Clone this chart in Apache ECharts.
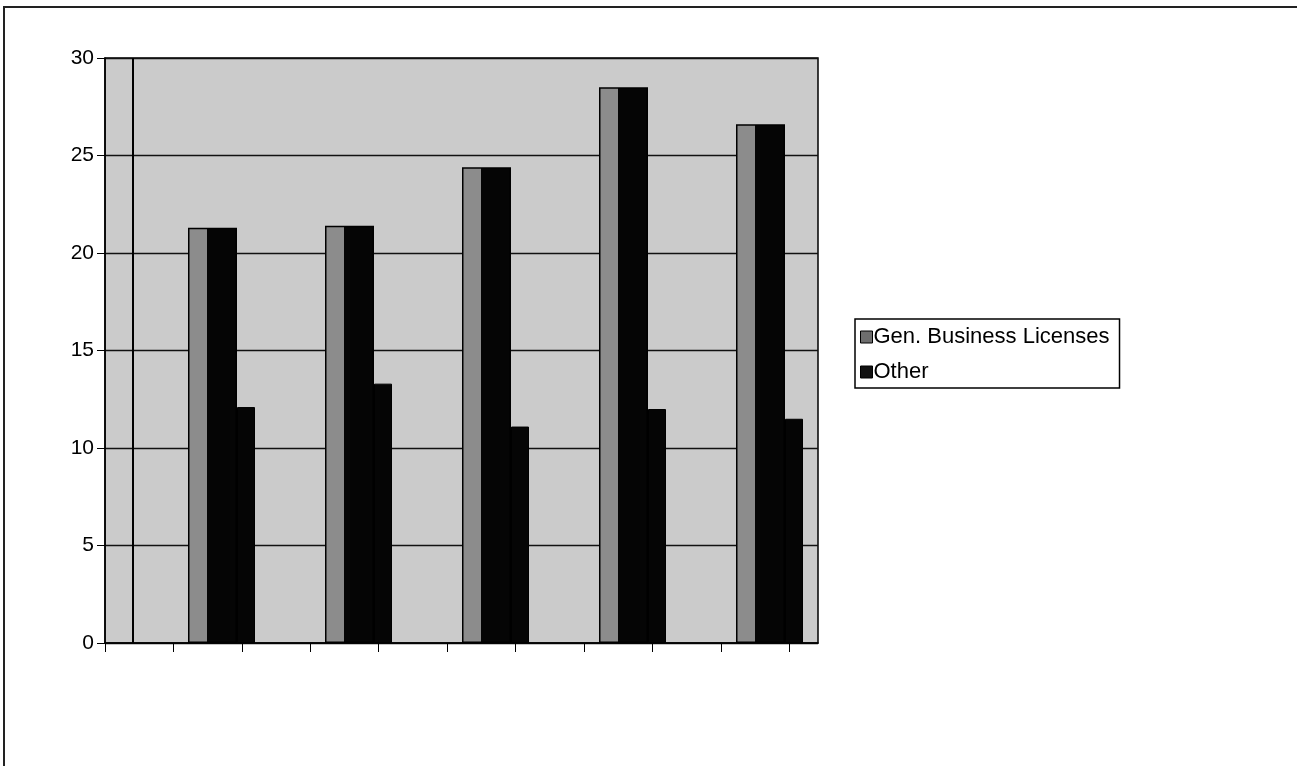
<!DOCTYPE html>
<html>
<head>
<meta charset="utf-8">
<title>Licenses</title>
<script src="https://cdn.jsdelivr.net/npm/echarts@6/dist/echarts.min.js"></script>
<style>
  html, body { margin: 0; padding: 0; background: #fff; }
  #chart { width: 1297px; height: 766px; }
</style>
</head>
<body>
<div id="chart"></div>
<script>
// Five reporting periods (no category labels are printed on the axis)
const categories = ['1', '2', '3', '4', '5'];
const genBusiness = [21.3, 21.4, 24.4, 28.5, 26.6];
const other = [12.1, 13.3, 11.1, 12.0, 11.5];
const yTicks = [0, 5, 10, 15, 20, 25, 30];
const xTickPositions = [0, 1, 2, 3, 4, 5, 6, 7, 8, 9, 10];

const seriesNames = ['Gen. Business Licenses', 'Other'];
const FONT = '"Liberation Sans", Arial, sans-serif';

const chart = echarts.init(document.getElementById('chart'), null, { renderer: 'canvas' });

// Gray front face with dark body, giving the columns a 3D look
const genFill = new echarts.graphic.LinearGradient(0, 0, 1, 0, [
  { offset: 0, color: '#8c8c8c' },
  { offset: 0.39, color: '#8c8c8c' },
  { offset: 0.39, color: '#050505' },
  { offset: 1, color: '#050505' }
]);

const option = {
  backgroundColor: '#ffffff',
  animation: false,
  grid: [
    // plot frame, background and scale
    { left: 105, top: 58, right: 479, bottom: 123, show: true,
      backgroundColor: '#cbcbcb', borderColor: '#000', borderWidth: 1.5 },
    // column placement
    { left: 153, top: 58, width: 685, bottom: 123 }
  ],
  xAxis: [
    { gridIndex: 0, type: 'value', min: 0, max: 10.42, interval: 1,
      axisLine: { show: true, lineStyle: { color: '#000', width: 1.5 } },
      axisTick: { show: true, length: 9, customValues: xTickPositions,
                  lineStyle: { color: '#000', width: 1 } },
      axisLabel: { show: false }, splitLine: { show: false } },
    { gridIndex: 1, type: 'category', data: categories,
      axisLine: { show: false }, axisTick: { show: false },
      axisLabel: { show: false }, splitLine: { show: false } }
  ],
  yAxis: [
    { gridIndex: 0, type: 'value', min: yTicks[0], max: yTicks[yTicks.length - 1], interval: 5,
      axisLine: { show: true, lineStyle: { color: '#000', width: 1.5 } },
      axisTick: { show: true, length: 8, lineStyle: { color: '#000', width: 1 } },
      axisLabel: { show: true, color: '#000', fontFamily: FONT, fontSize: 21, margin: 11 },
      splitLine: { show: true, lineStyle: { color: '#111', width: 1.3 } } },
    { gridIndex: 1, type: 'value', min: 0, max: 30,
      axisLine: { show: false }, axisTick: { show: false },
      axisLabel: { show: false }, splitLine: { show: false } }
  ],
  legend: {
    orient: 'vertical',
    left: 855, top: 319,
    padding: [7, 10, 5, 5],
    itemGap: 13,
    itemWidth: 12, itemHeight: 12,
    borderColor: '#000', borderWidth: 1.5,
    backgroundColor: '#fff',
    icon: 'rect',
    textStyle: { color: '#000', fontFamily: FONT, fontSize: 22, padding: [0, 0, 0, -4] },
    data: [
      { name: seriesNames[0], itemStyle: { color: '#6e6e6e', borderColor: '#000', borderWidth: 1 } },
      { name: seriesNames[1], itemStyle: { color: '#111', borderColor: '#000', borderWidth: 1 } }
    ]
  },
  series: [
    { name: seriesNames[0], type: 'bar', xAxisIndex: 1, yAxisIndex: 1,
      data: genBusiness, barWidth: 49, barGap: '0%',
      itemStyle: { color: genFill, borderColor: '#000', borderWidth: 1.5 } },
    { name: seriesNames[1], type: 'bar', xAxisIndex: 1, yAxisIndex: 1,
      data: other, barWidth: 18, barGap: '0%',
      itemStyle: { color: '#050505', borderColor: '#000', borderWidth: 1 } }
  ],
  graphic: [
    // page frame along the left and top edges
    { type: 'polyline', shape: { points: [[4, 766], [4, 7], [1297, 7]] },
      style: { stroke: '#222', lineWidth: 2, fill: null }, silent: true },
    // vertical rule inside the plot area
    { type: 'line', shape: { x1: 133, y1: 58, x2: 133, y2: 643 },
      style: { stroke: '#000', lineWidth: 2 }, silent: true, z: 1 }
  ]
};

chart.setOption(option);
</script>
</body>
</html>
